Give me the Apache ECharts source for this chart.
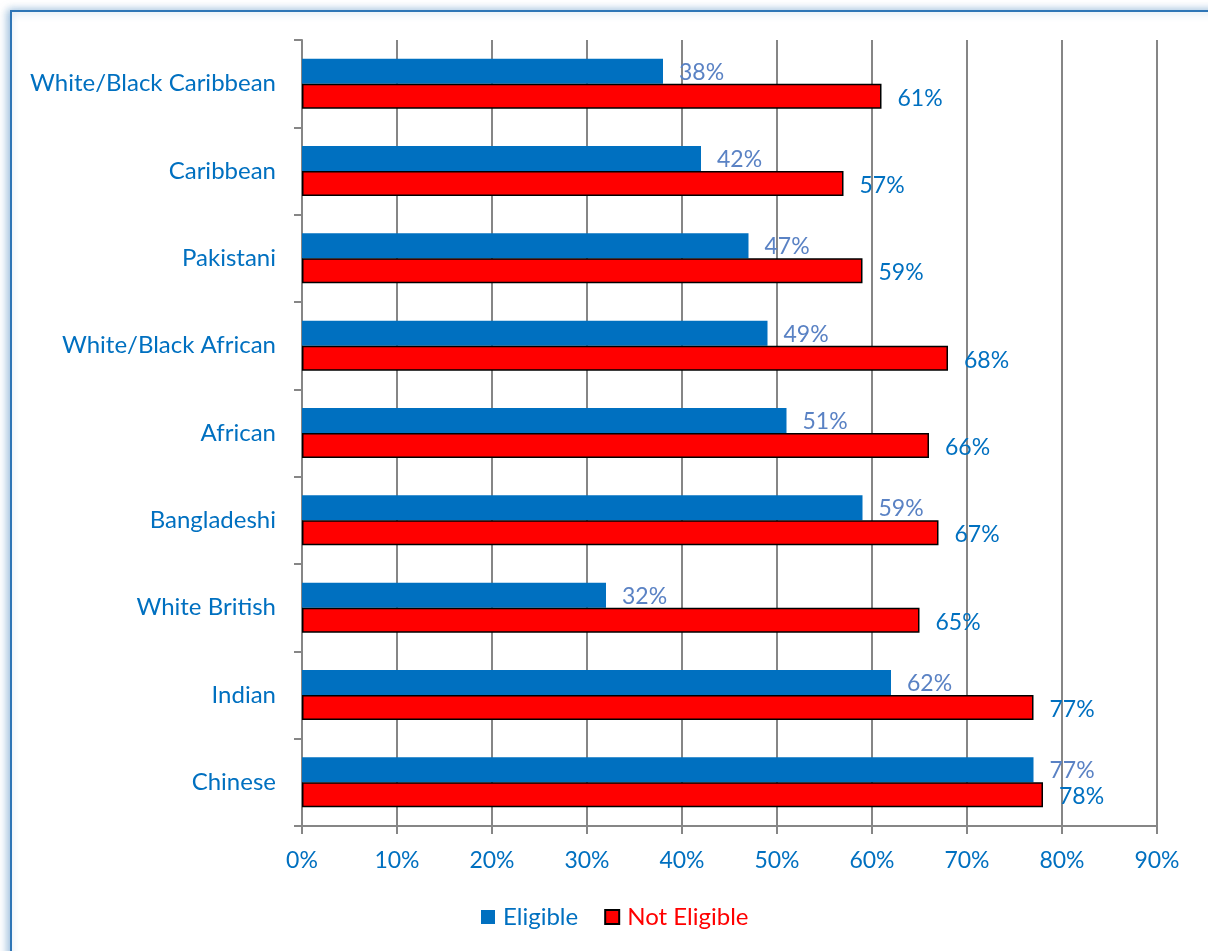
<!DOCTYPE html>
<html>
<head>
<meta charset="utf-8">
<script src="https://cdn.jsdelivr.net/npm/echarts@6/dist/echarts.min.js"></script>
<style>
html,body{margin:0;padding:0;background:#fff;}
#c{width:1208px;height:951px;}
</style>
</head>
<body>
<div id="c"></div>
<script>
const categories = ['White/Black Caribbean','Caribbean','Pakistani','White/Black African','African','Bangladeshi','White British','Indian','Chinese'];
const eligible = [38,42,47,49,51,59,32,62,77];
const notEligible = [61,57,59,68,66,67,65,77,78];
const xTicks = [0,10,20,30,40,50,60,70,80,90];

const FONT = 'Lato, "Open Sans", sans-serif';
const chart = echarts.init(document.getElementById('c'));
chart.setOption({
  animation: false,
  graphic: [{
    type: 'rect', left: 10, top: 10, z: -1,
    shape: {width: 1300, height: 1000},
    style: {fill: '#fff', stroke: '#2E75B6', lineWidth: 2, shadowBlur: 8, shadowColor: 'rgba(46,117,182,0.5)', shadowOffsetX: -2}
  }],
  grid: {left: 302, right: 51, top: 40, bottom: 125},
  legend: {
    bottom: 17, left: 476, itemWidth: 14, itemHeight: 14, itemGap: 26,
    textStyle: {fontFamily: FONT, fontSize: 24, padding: [0, 0, 0, 3]},
    data: [
      {name: 'Eligible', icon: 'rect', textStyle: {color: '#0070C0'}},
      {name: 'Not Eligible', icon: 'rect', textStyle: {color: '#FF0000'}}
    ]
  },
  xAxis: {
    type: 'value', min: 0, max: 90, interval: 10,
    axisLine: {show: true, lineStyle: {color: '#868686', width: 2}},
    axisTick: {show: true, length: 8, lineStyle: {color: '#868686', width: 2}},
    splitLine: {show: true, lineStyle: {color: '#868686', width: 2}},
    axisLabel: {color: '#0070C0', fontFamily: FONT, fontSize: 23, margin: 23, formatter: v => v + '%'}
  },
  yAxis: {
    type: 'category', data: categories, inverse: true,
    axisLine: {show: true, lineStyle: {color: '#868686', width: 2}},
    axisTick: {show: true, length: 8, lineStyle: {color: '#868686', width: 2}},
    axisLabel: {color: '#0070C0', fontFamily: FONT, fontSize: 24, margin: 26}
  },
  series: [
    {
      name: 'Eligible', type: 'bar', data: eligible, barWidth: 25, barGap: '0%',
      itemStyle: {color: '#0070C0'},
      label: {show: true, position: 'right', distance: 16, offset: [0, 1], color: '#5A82C4', fontFamily: FONT, fontSize: 23, formatter: p => p.value + '%'}
    },
    {
      name: 'Not Eligible', type: 'bar', data: notEligible, barWidth: 25, barGap: '0%',
      itemStyle: {color: '#FF0000', borderColor: '#000', borderWidth: 1.5},
      label: {show: true, position: 'right', distance: 16, offset: [0, 2], color: '#0070C0', fontFamily: FONT, fontSize: 23, formatter: p => p.value + '%'}
    }
  ]
});
</script>
</body>
</html>
